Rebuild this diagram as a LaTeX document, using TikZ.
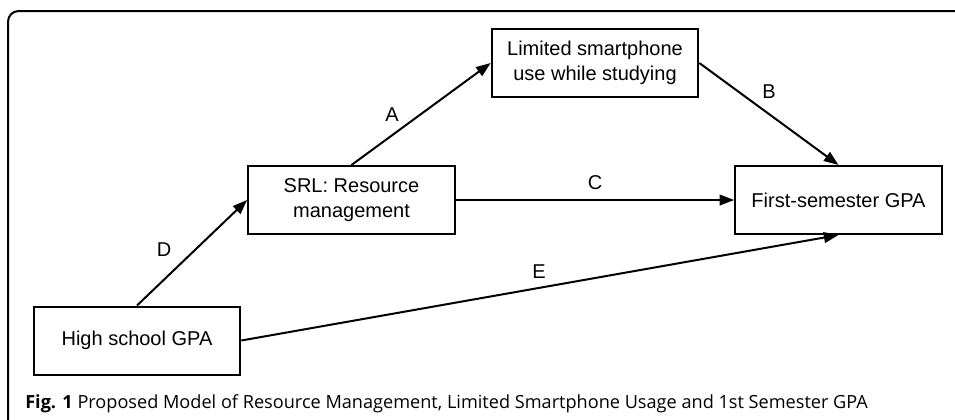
\documentclass[tikz,border=0pt]{standalone}
\usepackage{fontspec}
\setmainfont{Liberation Sans}
\newfontfamily\captionfont{Open Sans}
\usetikzlibrary{arrows.meta}

\tikzset{
    box/.style={draw, line width=1.5pt, align=center, inner sep=0pt,
        minimum width=155pt, minimum height=51pt,
        font=\fontsize{15}{18.5}\selectfont},
    path/.style={line width=1.5pt, -{Triangle[length=11pt,width=8pt]}},
    lbl/.style={font=\fontsize{15}{18}\selectfont}
}

\begin{document}
\begin{tikzpicture}[x=0.75pt, y=-0.75pt]
        \useasboundingbox (0,0) rectangle (955,419);
        % Frame of the figure
        \draw[line width=1.5pt, rounded corners=8] (975,11) -- (8,11) -- (8,425);
        
        % Boxes
        \node[box, minimum height=51pt] (phone) at (595,63) {Limited smartphone\\use while studying};
        \node[box] (srl) at (351.5,200) {SRL: Resource\\management};
        \node[box] (first) at (838.5,200) {First-semester GPA};
        \node[box] (high) at (137,340.5) {High school GPA};
        
        % Paths between the boxes
        \draw[path] (srl.north) -- (phone.west);
        \draw[path] (phone.east) -- (first.north);
        \draw[path] (srl.east) -- (first.west);
        \draw[path] (high.north) -- (srl.west);
        \draw[path] (high.east) -- (first.south);
        
        % Path labels
        \node[lbl] (la) at (392,115) {A};
        \node[lbl] (lb) at (769,92) {B};
        \node[lbl] (lc) at (595,183) {C};
        \node[lbl] (ld) at (164,250) {D};
        \node[lbl] (le) at (539,272) {E};
        
        % Caption
        \node[anchor=base west, inner sep=0pt, font=\captionfont\fontsize{13.6}{16}\selectfont] (cap) at (25,408)
            {\textbf{Fig. 1} Proposed Model of Resource Management, Limited Smartphone Usage and 1st Semester GPA};
    \end{tikzpicture}
\end{document}
